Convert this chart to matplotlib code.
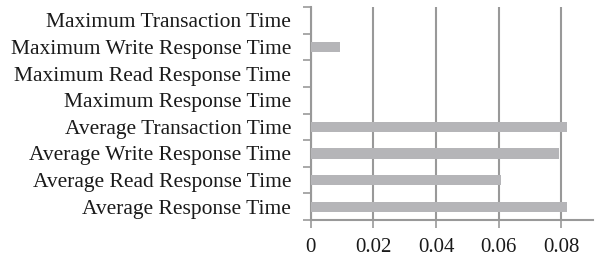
import numpy as np
import matplotlib.pyplot as plt
from matplotlib.ticker import FixedLocator

# categories from bottom to top
labels = ['Average Response Time', 'Average Read Response Time',
          'Average Write Response Time', 'Average Transaction Time',
          'Maximum Response Time', 'Maximum Read Response Time',
          'Maximum Write Response Time', 'Maximum Transaction Time']
values = [0.0816, 0.0607, 0.0793, 0.0816, 0.0, 0.0, 0.0094, 0.0]
xticks = [0, 0.02, 0.04, 0.06, 0.08]
xtick_labels = ['0', '0.02', '0.04', '0.06', '0.08']

plt.rcParams['font.family'] = ['Liberation Serif', 'DejaVu Serif']

fig = plt.figure(figsize=(6.02, 2.6), dpi=100)
ax = fig.add_axes([0.516, 0.1538, 0.4688, 0.8192])

y = np.arange(len(labels))
ax.barh(y, values, height=0.38, color='#b5b5b8', zorder=3)

ax.set_xlim(0, 0.09)
ax.set_ylim(-0.5, len(labels) - 0.5)

ax.set_xticks(xticks)
ax.set_xticklabels(xtick_labels, fontsize=15, color='#1a1a1a')
ax.set_yticks(y)
ax.set_yticklabels(labels, fontsize=15.5, color='#1a1a1a')
ax.tick_params(axis='y', length=0, pad=14)
ax.tick_params(axis='x', length=6, width=1.2, color='#999999', pad=7)
# tick marks between categories
ax.yaxis.set_minor_locator(FixedLocator(np.arange(-0.5, len(labels), 1.0)))
ax.tick_params(axis='y', which='minor', length=6, width=1.2, color='#999999')

ax.grid(axis='x', color='#999999', linewidth=1.5, zorder=0)
for s in ['top', 'right']:
    ax.spines[s].set_visible(False)
ax.spines['left'].set_color('#999999')
ax.spines['left'].set_linewidth(1.5)
ax.spines['bottom'].set_color('#999999')
ax.spines['bottom'].set_linewidth(1.5)

fig.savefig('out.png', dpi=100)
